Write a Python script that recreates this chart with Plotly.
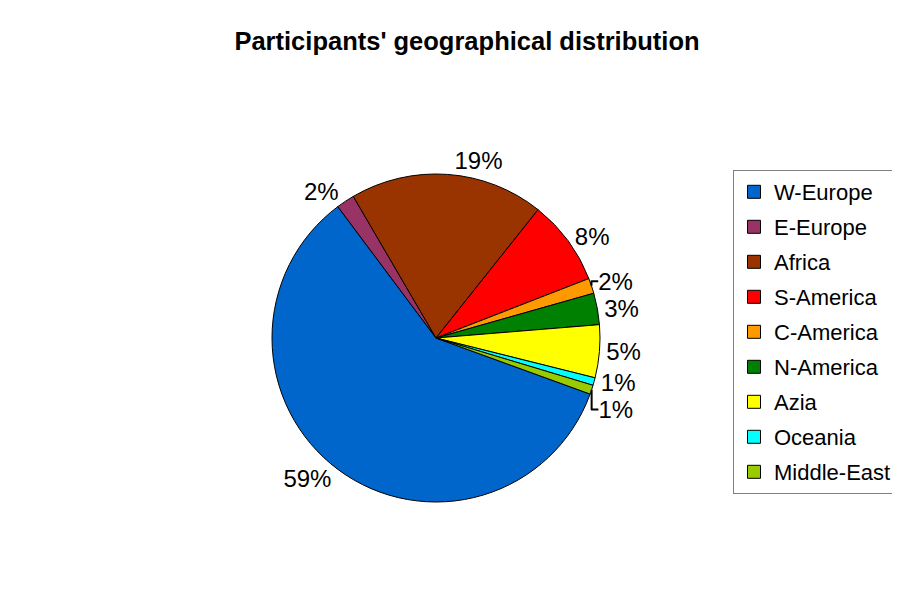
import plotly.graph_objects as go

regions = ["W-Europe", "E-Europe", "Africa", "S-America", "C-America",
           "N-America", "Azia", "Oceania", "Middle-East"]
shares = [59.2, 1.8, 19.1, 8.4, 1.5, 3.1, 5.2, 0.75, 0.9]
colors = ["#0066CC", "#993366", "#993300", "#FF0000", "#FF9900",
          "#008000", "#FFFF00", "#00FFFF", "#99CC00"]

FONT = "Liberation Sans, Arial, sans-serif"
W, H = 900, 590
cx, cy = 428 / W, (H - 330) / H
hw, hh = 164 / W, 164 / H

fig = go.Figure()
fig.add_trace(go.Pie(
    labels=regions,
    values=shares,
    sort=False,
    direction="clockwise",
    rotation=110,
    marker=dict(colors=colors, line=dict(color="black", width=1)),
    textposition="outside",
    texttemplate="%{percent:.0%}",
    textfont=dict(family=FONT, size=24, color="black"),
    domain=dict(x=[cx - hw, cx + hw], y=[cy - hh, cy + hh]),
    hoverinfo="label+percent",
    showlegend=False,
))

# legend entries (one group each so row spacing can match the reference)
for name, col in zip(regions, colors):
    fig.add_trace(go.Scatter(
        x=[None], y=[None], mode="markers", name=name, legendgroup=name,
        marker=dict(symbol="square", size=13, color=col,
                    line=dict(color="black", width=1)),
        showlegend=True,
    ))

fig.update_layout(
    width=W, height=H,
    margin=dict(l=0, r=0, t=0, b=0),
    paper_bgcolor="white",
    plot_bgcolor="white",
    xaxis=dict(visible=False),
    yaxis=dict(visible=False),
    title=dict(text="<b>Participants' geographical distribution</b>",
               x=459 / W, xanchor="center", y=1 - 33 / H, yanchor="middle",
               font=dict(family=FONT, size=25.5, color="black")),
    legend=dict(x=725 / W, xanchor="left", y=1 - 162 / H, yanchor="top",
                bordercolor="#808080", borderwidth=1, bgcolor="white",
                font=dict(family=FONT, size=22, color="black"),
                traceorder="grouped", tracegroupgap=3.4, itemsizing="trace"),
)

fig.write_html("out.html")
